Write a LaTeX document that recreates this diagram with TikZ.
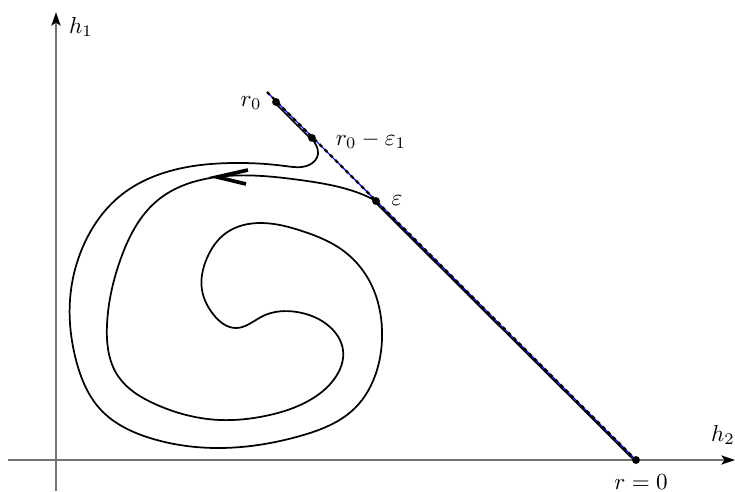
\documentclass[tikz,border=0pt]{standalone}
\usetikzlibrary{arrows.meta,hobby}
\begin{document}
\begin{tikzpicture}[x=0.0152cm,y=-0.0152cm,
  axis/.style={draw=black!55,line width=0.8pt,-{Stealth[length=6pt,width=4pt,inset=1.5pt,black]}},
  traj/.style={draw=black,line width=0.75pt},
  dot/.style={circle,fill=black,inner sep=0pt,minimum size=3.4pt},
  lbl/.style={inner sep=1pt}]
\useasboundingbox (0,0) rectangle (735,491);
% axes
\coordinate (xs) at (8,460);
\coordinate (xe) at (735,460);
\coordinate (ys) at (56,491);
\coordinate (ye) at (56,12);
\draw[axis] (xs) -- (xe);
\draw[axis] (ys) -- (ye);
\node[lbl] (h1) at (81,27) {$h_1$};
\node[lbl] (h2) at (723,435) {$h_2$};
% key points
\coordinate (top) at (267,92);
\coordinate (R0) at (276,102);
\coordinate (R1) at (312,138);
\coordinate (E) at (376,201);
\coordinate (Z) at (636,460);
% trajectory along the line
\draw[traj] ([shift={(-1,1)}]R0) -- ([shift={(-1,1)}]R1);
\draw[traj] ([shift={(-1,1)}]E) -- ([shift={(-1,1)}]Z);
% spiral trajectory
\draw[traj,use Hobby shortcut] ([out angle=-60]R1) .. (318,154) .. (309,165) .. (285,166)
 .. (233,163) .. (170,171) .. (120,196) .. (86,240) .. (70,300) .. (76,360)
 .. (101,410) .. (150,438) .. (220,448) .. (300,436) .. (355,408) .. (377,370)
 .. (382,330) .. (372,286) .. (345,252) .. (302,231) .. (262,223) .. (226,233)
 .. (207,258) .. (202,290) .. (213,314) .. (236,328) .. (263,316) .. (297,312)
 .. (330,327) .. (343,350) .. (335,378) .. (310,400) .. (265,416) .. (220,420)
 .. (155,404) .. (118,376) .. (107,325) .. (121,258) .. (158,200)
 .. (217,177) .. (300,180) .. (350,190) .. ([in angle=150]E);
% arrow mark
\coordinate (a1) at (248,170);
\coordinate (a0) at (217,177);
\coordinate (a2) at (246,184);
\draw[line width=1.6pt] (a1) -- (a0) -- (a2);
% the line r
\draw[blue,line width=0.5pt] (top) -- (Z);
\draw[black,line width=1pt,dash pattern=on 1.6pt off 1.6pt] (top) -- (Z);
% dots
\node[dot] at (R0) {};
\node[dot] at (R1) {};
\node[dot] at (E) {};
\node[dot] at (Z) {};
% labels
\node[lbl] (l0) at (251,103) {$r_0$};
\node[lbl,anchor=west] (l1) at (333,140) {$r_0-\varepsilon_1$};
\node[lbl] (le) at (397,201) {$\varepsilon$};
\node[lbl] (lz) at (641,482) {$r=0$};
\end{tikzpicture}
\end{document}
